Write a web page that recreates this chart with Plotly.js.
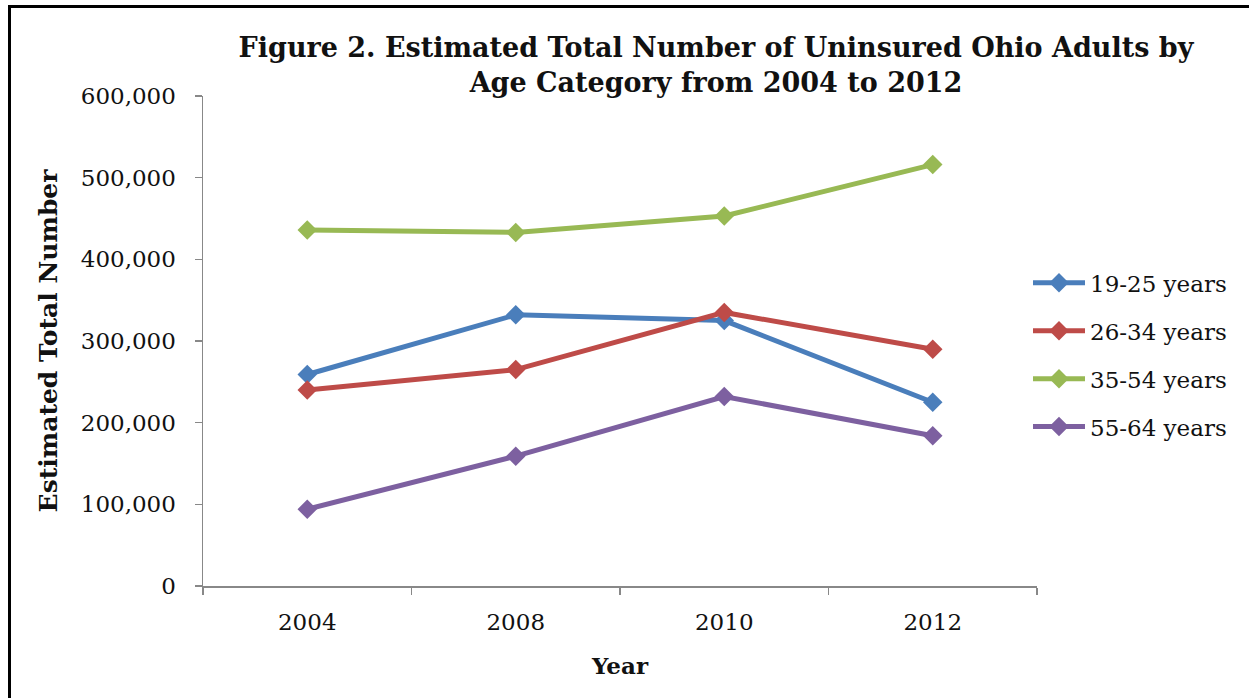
<!DOCTYPE html>
<html>
<head>
<meta charset="utf-8">
<script src="https://cdn.plot.ly/plotly-3.0.1.min.js"></script>
<style>
  html, body { margin: 0; padding: 0; background: #fff; }
  #chart { width: 1249px; height: 698px; }
</style>
</head>
<body>
<div id="chart"></div>
<script>
const years = ["2004", "2008", "2010", "2012"];
const seriesNames = ["19-25 years", "26-34 years", "35-54 years", "55-64 years"];
const age19to25 = [259000, 332000, 325000, 225000];
const age26to34 = [240000, 265000, 335000, 290000];
const age35to54 = [436000, 433000, 453000, 516000];
const age55to64 = [94000, 159000, 232000, 184000];
const seriesColors = ["#4A7EBB", "#BE4B48", "#98B954", "#7D60A0"];

const allValues = [age19to25, age26to34, age35to54, age55to64];

const traces = allValues.map((vals, i) => ({
  type: "scatter",
  mode: "lines+markers",
  x: years,
  y: vals,
  name: seriesNames[i],
  legendgroup: "g" + i,
  line: { color: seriesColors[i], width: 5 },
  marker: { symbol: "diamond", size: 15, color: seriesColors[i] }
}));

const W = 1249, H = 698;
const m = { l: 203, r: 212, t: 96, b: 112 };
const pw = W - m.l - m.r, ph = H - m.t - m.b;
const px = v => (v - m.l) / pw;
const py = v => (H - m.b - v) / ph;

const serif = "DejaVu Serif, serif";

const layout = {
  width: W, height: H,
  margin: m,
  paper_bgcolor: "#ffffff",
  plot_bgcolor: "#ffffff",
  showlegend: true,
  title: {
    text: "<b>Figure 2. Estimated Total Number of Uninsured Ohio Adults by<br>Age Category from 2004 to 2012</b>",
    font: { family: serif, size: 27, color: "#111" },
    xref: "container", yref: "container",
    x: 716 / W, xanchor: "center",
    y: 1 - 57 / H, yanchor: "top"
  },
  xaxis: {
    type: "category",
    range: [-0.5, 3.5],
    showline: true, linecolor: "#888", linewidth: 1.5,
    ticks: "outside", tickson: "boundaries", ticklen: 7, tickcolor: "#888", tickwidth: 1.5,
    showgrid: false, zeroline: false,
    tickfont: { family: serif, size: 23, color: "#111" },
    ticklabelstandoff: 15,
    title: { text: "<b>Year</b>", font: { family: serif, size: 23, color: "#111" }, standoff: 24 }
  },
  yaxis: {
    range: [0, 600000], dtick: 100000, tick0: 0,
    tickformat: ",d",
    showline: true, linecolor: "#888", linewidth: 1.5,
    ticks: "outside", ticklen: 7, tickcolor: "#888", tickwidth: 1.5,
    showgrid: false, zeroline: false,
    tickfont: { family: serif, size: 23, color: "#111" },
    ticklabelstandoff: 14,
    title: { text: "<b>Estimated Total Number</b>", font: { family: serif, size: 25, color: "#111" }, standoff: 16 }
  },
  legend: {
    x: px(1028), xanchor: "left",
    y: py(281) + 0.04, yanchor: "top",
    font: { family: serif, size: 23, color: "#111" },
    traceorder: "grouped",
    tracegroupgap: 15,
    itemwidth: 52,
    bgcolor: "rgba(0,0,0,0)"
  },
  shapes: [
    { type: "line", xref: "paper", yref: "paper", x0: px(9.5), x1: px(9.5), y0: py(6), y1: py(H + 5), line: { color: "#000", width: 3 } },
    { type: "line", xref: "paper", yref: "paper", x0: px(8), x1: px(W + 5), y0: py(6.5), y1: py(6.5), line: { color: "#000", width: 3 } }
  ]
};

Plotly.newPlot("chart", traces, layout, { displayModeBar: false, staticPlot: true });
</script>
</body>
</html>
